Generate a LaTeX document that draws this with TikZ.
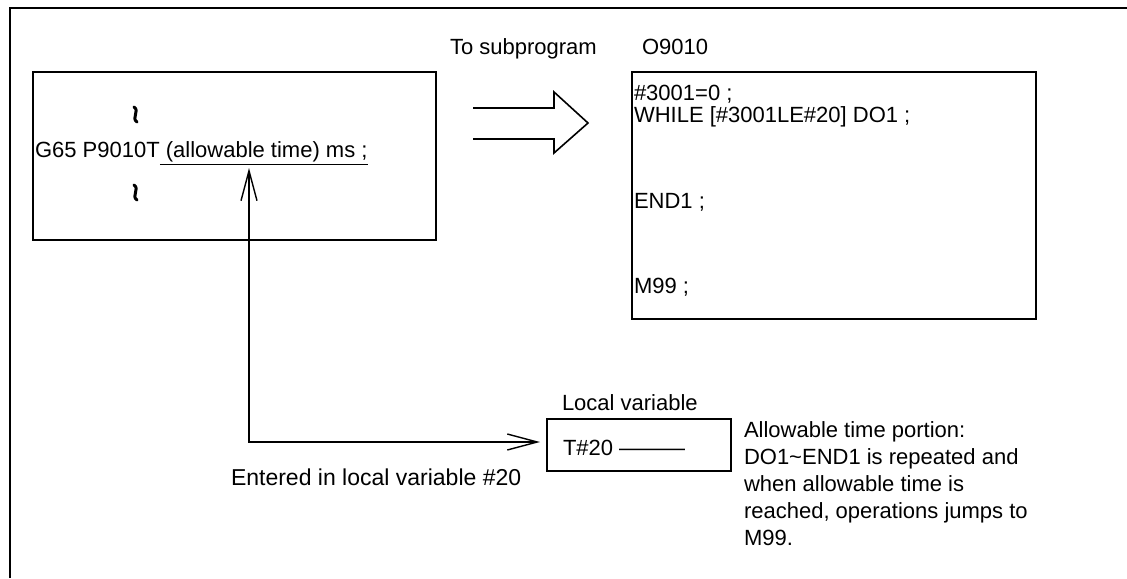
\documentclass[tikz,border=0pt]{standalone}
\usepackage{fontspec}
\setmainfont{Liberation Sans}
\usetikzlibrary{arrows.meta}
\tikzset{
  box/.style={draw, line width=0.9pt, inner sep=0pt, outer sep=0pt},
  txt/.style={anchor=base west, inner sep=0pt, outer sep=0pt, font=\fontsize{11}{13}\selectfont},
  wave/.style={line width=1.5pt, line cap=round},
  conn/.style={line width=0.7pt},
  barb/.style={line width=0.7pt, {Straight Barb[length=15pt,width=8pt]}-{Straight Barb[length=15pt,width=8pt]}},
  hollow/.style={line width=0.8pt, line join=miter},
}
\begin{document}
\begin{tikzpicture}[x=0.5pt,y=-0.5pt]
\useasboundingbox (0,0) rectangle (1127,578);
% outer frame (top and left edges)
\draw[line width=1.3pt] (10,578) -- (10,8) -- (1127,8);

% main program box
\node[box, minimum width=201.5pt, minimum height=84pt] (main) at (234.5,156) {};
\draw[wave] (134,107) .. controls (140,111) and (131,118) .. (137,122);
\draw[wave] (134,185) .. controls (140,189) and (131,196) .. (137,200);
\node[txt] (g65a) at (35,157) {G65 P9010T};
\node[txt] (g65b) at (g65a.base east) {\underline{\ (allowable time) ms ;}};

% labels above
\node[txt] (tosub) at (450,54) {To subprogram};
\node[txt] (oname) at (642,54) {O9010};

% hollow arrow
\draw[hollow] (473,108) -- (554,108) -- (554,92) -- (588,123) -- (554,153) -- (554,139) -- (473,139);

% subprogram box
\node[box, minimum width=202pt, minimum height=123.5pt] (sub) at (834,195.5) {};
\node[txt] (s1) at (634,100) {\#3001=0 ;};
\node[txt] (s2) at (634,122) {WHILE [\#3001LE\#20] DO1 ;};
\node[txt] (s3) at (634,208) {END1 ;};
\node[txt] (s4) at (634,293) {M99 ;};

% local variable box
\node[txt] (lvlabel) at (562,410) {Local variable};
\node[box, minimum width=92pt, minimum height=26pt] (lv) at (639,445) {};
\node[txt] (lvtext) at (563,455) {T\#20 ———};

% description
\node[txt] (d1) at (744,437) {Allowable time portion:};
\node[txt] (d2) at (744,464) {DO1\char`~END1 is repeated and};
\node[txt] (d3) at (744,491) {when allowable time is};
\node[txt] (d4) at (744,518) {reached, operations jumps to};
\node[txt] (d5) at (744,545) {M99.};

\node[txt, font=\fontsize{11.5}{13}\selectfont] (entered) at (231,485) {Entered in local variable \#20};

% connector
\coordinate (up) at (249,168);
\coordinate (corner) at (249,442);
\coordinate (lvend) at (540,442);
\draw[barb] (up) -- (corner) -- (lvend);
\end{tikzpicture}
\end{document}
